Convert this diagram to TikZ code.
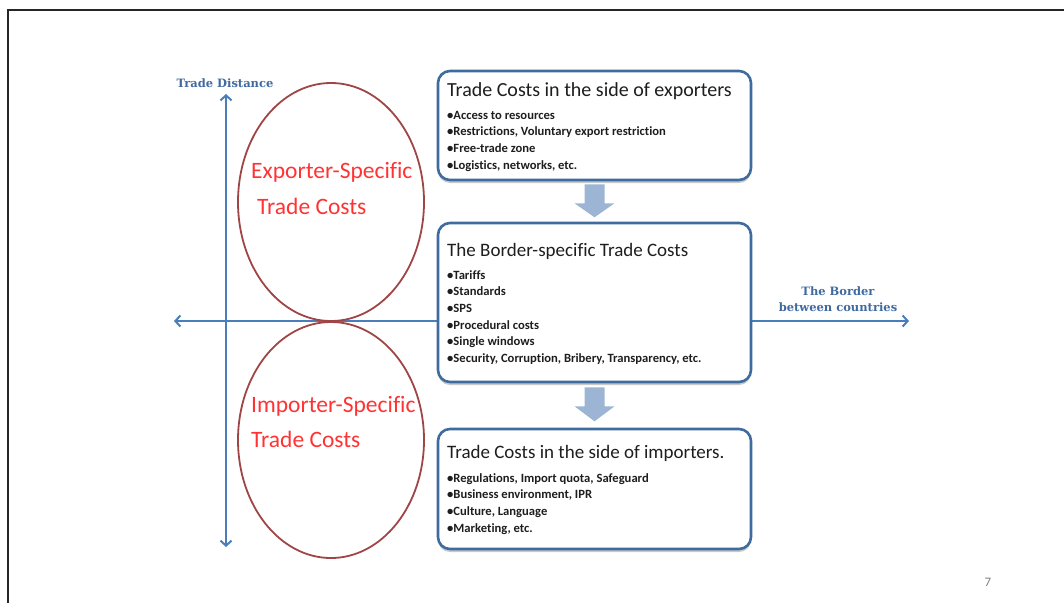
\documentclass[tikz,border=0pt]{standalone}
\usepackage{fontspec}
\newfontfamily\carlitofont[Ligatures=NoCommon]{Carlito}
\newfontfamily\labelserif{DejaVu Serif}
\usetikzlibrary{arrows.meta,shadows,shapes.geometric}
\definecolor{axisblue}{HTML}{4A7EBB}
\definecolor{boxblue}{HTML}{3E6C9F}
\definecolor{ellred}{HTML}{A04545}
\definecolor{arrowfill}{HTML}{9DB5D4}
\definecolor{redtext}{HTML}{FF3333}
\definecolor{titlegray}{HTML}{1E1E1E}
\definecolor{lblblue}{HTML}{3F6AA0}
\tikzset{
  axis/.style={draw=axisblue, line width=2pt,
    arrows={Straight Barb[length=5pt,width=11pt]-Straight Barb[length=5pt,width=11pt]}},
  axlabel/.style={text=lblblue, font=\labelserif\bfseries\fontsize{11.5}{16.5}\selectfont, inner sep=0pt, align=center},
  ell/.style={ellipse, draw=ellred, line width=1.8pt, inner sep=0pt},
  redlbl/.style={text=redtext, font=\carlitofont\fontsize{23.5}{28}\selectfont, inner sep=0pt, anchor=base west},
  box/.style={draw=boxblue, line width=2.6pt, rounded corners=12pt, fill=white, minimum width=313pt,
    drop shadow={shadow xshift=0pt, shadow yshift=-3pt, opacity=0.3, fill=black!70}},
  boxtitle/.style={text=titlegray, font=\carlitofont\fontsize{19}{22}\selectfont, inner sep=0pt, anchor=base west},
  bullets/.style={text=titlegray, font=\carlitofont\bfseries\fontsize{12.6}{16.7}\selectfont, inner sep=0pt, anchor=base west, align=left},
  blockarrow/.style={fill=arrowfill},
}
\begin{document}
\begin{tikzpicture}[x=1pt,y=-1pt]
\useasboundingbox (0,0) rectangle (1064,603);
% slide frame
\draw[line width=1.5pt, black!85] (8,603) -- (8,10) -- (1064,10);
% axes
\coordinate (vtop) at (226,94);
\coordinate (vbot) at (226,547);
\coordinate (hl) at (174,321);
\coordinate (hr) at (909,321);
\draw[axis] (vbot) -- (vtop);
\draw[axis] (hl) -- (hr);
\node[axlabel] (tdist) at (225,83) {Trade Distance};
\node[axlabel] (border) at (838,299) {The Border\\between countries};
% ellipses
\node[ell, minimum width=186pt, minimum height=238pt] (eexp) at (331,202) {};
\node[ell, minimum width=186pt, minimum height=236pt] (eimp) at (331,440) {};
\node[redlbl] (exp1) at (251,178) {Exporter-Specific};
\node[redlbl] (exp2) at (257,214) {Trade Costs};
\node[redlbl] (imp1) at (251,412) {Importer-Specific};
\node[redlbl] (imp2) at (251,447) {Trade Costs};
% boxes
\node[box, minimum height=109pt] (b1) at (594.5,125.5) {};
\node[box, minimum height=159pt] (b2) at (594.5,302.5) {};
\node[box, minimum height=120pt] (b3) at (594.5,489) {};
\node[boxtitle, font=\carlitofont\fontsize{20}{22}\selectfont] (t1) at (447,96) {Trade Costs in the side of exporters};
\node[bullets] (l1) at (447,169.1) {•Access to resources\\•Restrictions, Voluntary export\ restriction\\•Free-trade zone\\•Logistics, networks, etc.};
\node[boxtitle] (t2) at (447,256) {The Border-specific Trade Costs};
\node[bullets] (l2) at (447,362.5) {•Tariffs\\•Standards\\•SPS\\•Procedural\ costs\\•Single windows\\•Security, Corruption, Bribery, Transparency,\ etc.};
\node[boxtitle] (t3) at (447,458) {Trade Costs in the side of importers.};
\node[bullets] (l3) at (447,532.1) {•Regulations, Import quota, Safeguard\\•Business environment, IPR\\•Culture, Language\\•Marketing, etc.};
% block arrows
\fill[blockarrow] (b1.south) ++(-10,3) -- ++(20,0) -- ++(0,19) -- ++(10,0) -- ++(-20,14) -- ++(-20,-14) -- ++(10,0) -- cycle;
\fill[blockarrow] (b2.south) ++(-10,4) -- ++(20,0) -- ++(0,19) -- ++(10,0) -- ++(-20,15) -- ++(-20,-15) -- ++(10,0) -- cycle;
% page number
\node[text=black!50, font=\carlitofont\fontsize{13}{15}\selectfont, inner sep=0pt] (pnum) at (988,582) {7};
\end{tikzpicture}
\end{document}
